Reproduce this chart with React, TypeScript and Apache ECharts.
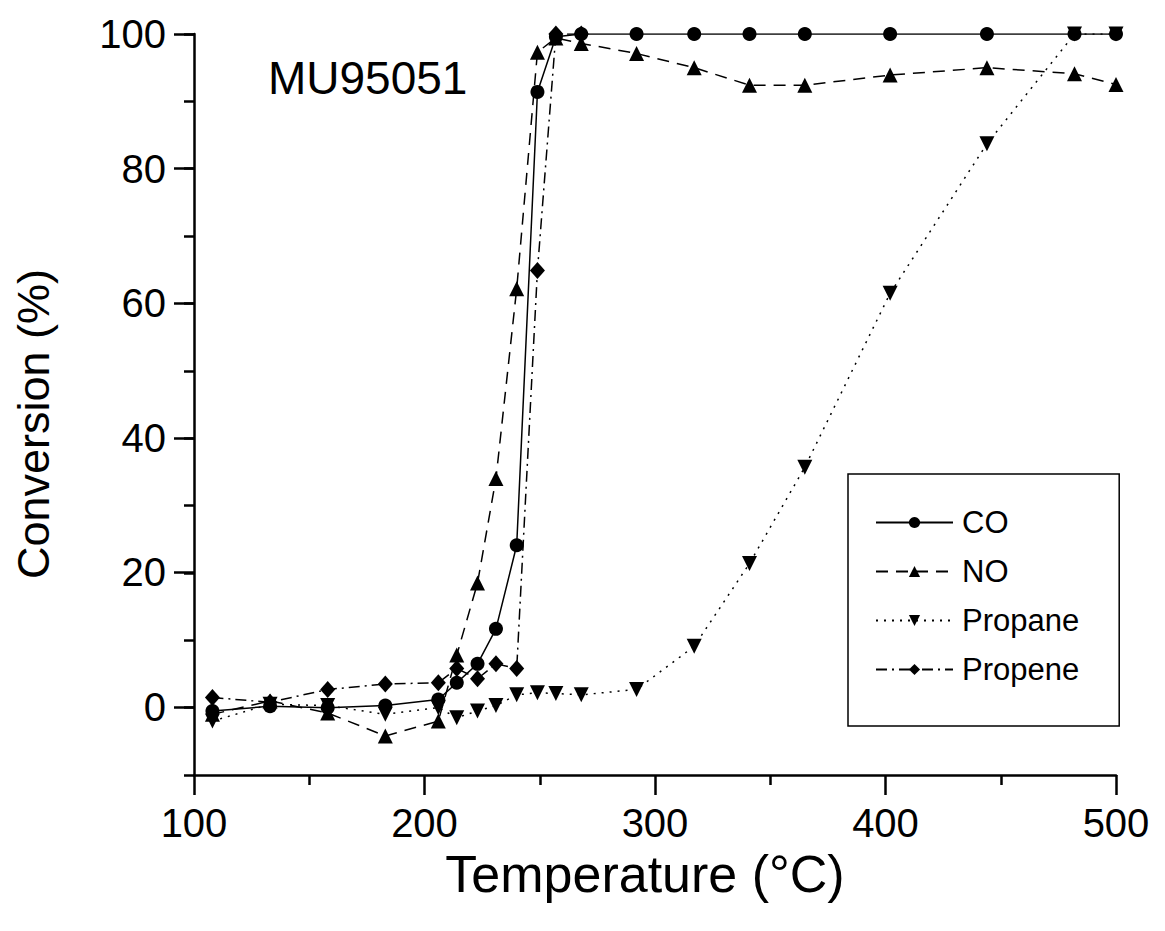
import React, { useEffect, useRef } from "react";
import * as echarts from "echarts";

const temps = [108, 133, 158, 183, 206, 214, 223, 231, 240, 249, 257, 268, 292, 317, 341, 365, 402, 444, 482, 500];
const coValues = [-0.5, 0.2, 0, 0.3, 1.2, 3.7, 6.5, 11.7, 24.1, 91.4, 99.6, 100, 100, 100, 100, 100, 100, 100, 100, 100];
const noValues = [-1, 1, -0.8, -4.2, -2, 7.8, 18.5, 34.0, 62.2, 97.3, 99.4, 98.6, 97.1, 95.0, 92.4, 92.4, 93.9, 95.0, 94.1, 92.5];
const propaneValues = [-2, 0.5, 0.3, -1, 0, -1.5, -0.5, 0.3, 1.9, 2.2, 2.1, 1.9, 2.7, 9.1, 21.4, 35.7, 61.5, 83.7, 100, 100];
const propeneValues = [1.5, 0.8, 2.7, 3.5, 3.7, 5.8, 4.3, 6.5, 5.8, 64.9, 100, 100, null, null, null, null, null, null, null, null];

const FONT = "'Liberation Sans', Arial, Helvetica, sans-serif";

function pairs(vals: (number | null)[]) {
  return temps.map((t, i) => [t, vals[i]]).filter((p) => p[1] !== null);
}

export default function App() {
  const ref = useRef<HTMLDivElement>(null);
  useEffect(() => {
    if (!ref.current) return;
    const chart = echarts.init(ref.current, undefined, { renderer: "svg" });
    const lineBase = { color: "#000", width: 1.5 };
    const blackLine = { color: "#000", width: 2.5 };
    const option: any = {
      animation: false,
      backgroundColor: "#fff",
      textStyle: { fontFamily: FONT },
      grid: [
        { left: 194, right: 49, top: 34, bottom: 156, containLabel: false },
        // helper grid spanning 0..100 for the long (labelled) y ticks
        { left: 194, right: 49, top: 34, bottom: 224, containLabel: false },
      ],
      xAxis: [
        {
          type: "value",
          gridIndex: 0,
          min: 100,
          max: 500,
          interval: 100,
          axisLine: { show: true, onZero: false, lineStyle: blackLine },
          axisTick: { show: true, length: 20, lineStyle: blackLine },
          minorTick: { show: true, splitNumber: 2, length: 10, lineStyle: blackLine },
          splitLine: { show: false },
          axisLabel: { color: "#000", fontSize: 40, fontFamily: FONT, margin: 28 },
          name: "Temperature (°C)",
          nameLocation: "middle",
          nameGap: 56,
          nameTextStyle: { color: "#000", fontSize: 52, fontFamily: FONT, padding: [0, 20, 0, 0] },
        },
        {
          type: "value",
          gridIndex: 1,
          min: 100,
          max: 500,
          show: false,
        },
      ],
      yAxis: [
        {
          type: "value",
          gridIndex: 0,
          min: -10,
          max: 100,
          interval: 10,
          axisLine: { show: true, onZero: false, lineStyle: blackLine },
          axisTick: { show: true, length: 10, lineStyle: blackLine },
          splitLine: { show: false },
          axisLabel: { show: false },
        },
        {
          type: "value",
          gridIndex: 1,
          min: 0,
          max: 100,
          interval: 20,
          axisLine: { show: false, onZero: false },
          axisTick: { show: true, length: 20, lineStyle: blackLine },
          splitLine: { show: false },
          axisLabel: { color: "#000", fontSize: 40, fontFamily: FONT, margin: 28 },
        },
      ],
      legend: {
        orient: "vertical",
        left: 848,
        top: 474,
        backgroundColor: "#fff",
        borderColor: "#000",
        borderWidth: 1.5,
        padding: [33, 40, 41, 27],
        itemWidth: 77,
        itemHeight: 14,
        itemGap: 18,
        textStyle: { color: "#000", fontSize: 31, lineHeight: 31, fontFamily: FONT, padding: [0, 0, 0, 4] },
        data: ["CO", "NO", "Propane", "Propene"],
      },
      graphic: [
        {
          type: "text",
          left: 268,
          top: 55,
          style: { text: "MU95051", fill: "#000", font: `46px ${FONT}` },
        },
        {
          type: "text",
          x: 33,
          y: 424,
          rotation: Math.PI / 2,
          style: {
            text: "Conversion (%)",
            fill: "#000",
            font: `45px ${FONT}`,
            align: "center",
            verticalAlign: "middle",
          },
        },
      ],
      series: [
        {
          name: "CO",
          type: "line",
          data: pairs(coValues),
          symbol: "circle",
          symbolSize: 14,
          itemStyle: { color: "#000" },
          lineStyle: { ...lineBase, type: "solid" },
          z: 4,
        },
        {
          name: "NO",
          type: "line",
          data: pairs(noValues),
          symbol: "triangle",
          symbolSize: 15,
          itemStyle: { color: "#000" },
          lineStyle: { ...lineBase, type: [12, 8] },
          z: 3,
        },
        {
          name: "Propane",
          type: "line",
          data: pairs(propaneValues),
          symbol: "triangle",
          symbolRotate: 180,
          symbolSize: 15,
          itemStyle: { color: "#000" },
          lineStyle: { ...lineBase, type: [2, 6] },
          z: 2,
        },
        {
          name: "Propene",
          type: "line",
          data: pairs(propeneValues),
          symbol: "diamond",
          symbolSize: [15, 17],
          itemStyle: { color: "#000" },
          lineStyle: { ...lineBase, type: [11, 5, 2, 5] },
          z: 1,
        },
      ],
    };
    chart.setOption(option);
    return () => chart.dispose();
  }, []);
  return (
    <div
      ref={ref}
      style={{ position: "fixed", left: 0, top: 0, width: 1165, height: 931, background: "#fff" }}
    />
  );
}
